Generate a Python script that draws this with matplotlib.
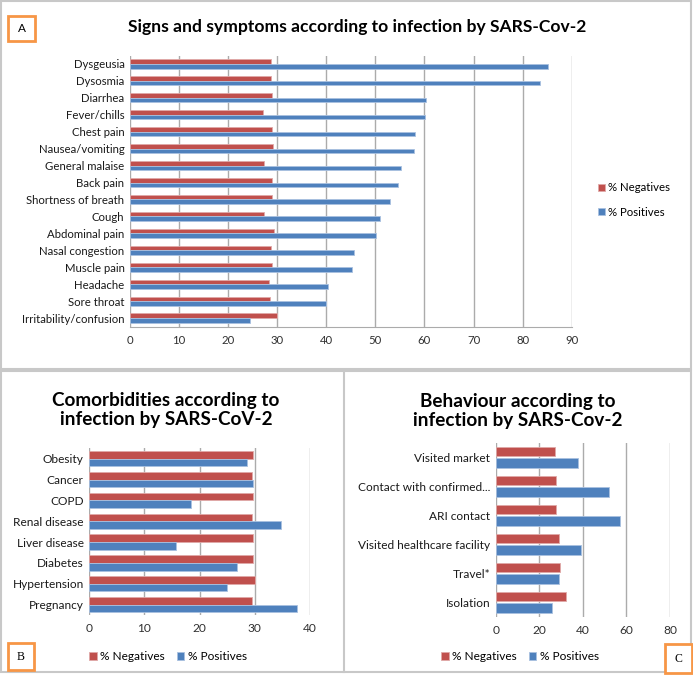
import matplotlib
matplotlib.use('Agg')
import matplotlib.pyplot as plt
from matplotlib.patches import Rectangle
from matplotlib.lines import Line2D
import numpy as np

plt.rcParams['font.family'] = ['Lato', 'DejaVu Sans']

# Panel A: signs and symptoms
symptoms = ['Dysgeusia', 'Dysosmia', 'Diarrhea', 'Fever/chills', 'Chest pain',
            'Nausea/vomiting', 'General malaise', 'Back pain', 'Shortness of breath',
            'Cough', 'Abdominal pain', 'Nasal congestion', 'Muscle pain', 'Headache',
            'Sore throat', 'Irritability/confusion']
symptoms_neg = [28.8, 28.7, 28.9, 27.2, 28.9, 29.1, 27.4, 29.0, 29.0, 27.3, 29.3,
                28.7, 29.0, 28.4, 28.5, 30.0]
symptoms_pos = [85.2, 83.5, 60.4, 60.2, 58.1, 57.8, 55.3, 54.7, 52.9, 50.9, 50.1,
                45.6, 45.3, 40.4, 39.9, 24.4]

# Panel B: comorbidities
comorb = ['Obesity', 'Cancer', 'COPD', 'Renal disease', 'Liver disease', 'Diabetes',
          'Hypertension', 'Pregnancy']
comorb_neg = [29.7, 29.5, 29.7, 29.4, 29.7, 29.7, 30.0, 29.4]
comorb_pos = [28.6, 29.7, 18.4, 34.7, 15.8, 26.8, 24.9, 37.6]

# Panel C: behaviour
behav = ['Visited market', 'Contact with confirmed...', 'ARI contact',
         'Visited healthcare facility', 'Travel*', 'Isolation']
behav_neg = [27.1, 27.7, 27.7, 29.1, 29.4, 32.1]
behav_pos = [37.8, 52.0, 57.1, 39.0, 28.9, 25.7]

RED = '#C0504D'
BLUE = '#4F81BD'
GRID = '#ABABAB'
W, H = 693, 675


def fx(px):
    return px / W


def fy(py):
    return 1 - py / H


def bars(ax, cats, neg, pos, h, off, xmax, step, fs):
    n = len(cats)
    y = np.arange(n)[::-1]
    ax.barh(y + off, neg, height=h, color=RED, edgecolor='#E0A9A8', linewidth=0.6,
            label='% Negatives', zorder=3)
    ax.barh(y - off, pos, height=h, color=BLUE, edgecolor='#A9C1E0', linewidth=0.6,
            label='% Positives', zorder=3)
    ax.set_yticks(y)
    ax.set_yticklabels(cats, fontsize=fs)
    ax.set_ylim(-0.5, n - 0.5)
    ax.set_xlim(0, xmax)
    ax.set_xticks(np.arange(0, xmax + 1, step))
    ax.tick_params(axis='x', labelsize=fs, length=0, pad=6, colors='#303030')
    ax.tick_params(axis='y', length=0, pad=4, colors='#1a1a1a')
    ax.grid(axis='x', color=GRID, linewidth=1, zorder=0)
    for s in ['top', 'right', 'bottom', 'left']:
        ax.spines[s].set_visible(False)


fig = plt.figure(figsize=(W / 100, H / 100), dpi=100)

# --- A ---
axA = fig.add_axes([fx(130), fy(326.5), fx(571.7 - 130), (326.5 - 55.5) / H])
bars(axA, symptoms, symptoms_neg, symptoms_pos, 0.27, 0.135, 90, 10, 8.2)
axA.spines['bottom'].set_visible(True)
axA.spines['bottom'].set_color(GRID)
axA.legend(loc='center left', bbox_to_anchor=(fx(598), fy(200)),
           bbox_transform=fig.transFigure, frameon=False, fontsize=8.2,
           handlelength=0.6, handleheight=0.6, handletextpad=0.3,
           labelspacing=1.2, borderaxespad=0, borderpad=0)
fig.text(fx(357), fy(27), 'Signs and symptoms according to infection by SARS-Cov-2',
         ha='center', va='center', fontsize=12.6, fontweight='bold')

# --- B ---
axB = fig.add_axes([fx(89.3), fy(615), fx(310 - 89.3), (615 - 448.3) / H])
bars(axB, comorb, comorb_neg, comorb_pos, 0.37, 0.185, 40, 10, 8.6)
axB.legend(loc='center', bbox_to_anchor=(fx(168), fy(657)),
           bbox_transform=fig.transFigure, frameon=False, fontsize=8.6, ncol=2,
           handlelength=0.6, handleheight=0.6, handletextpad=0.3,
           columnspacing=1.0, borderaxespad=0, borderpad=0)
fig.text(fx(166), fy(410), 'Comorbidities according to\ninfection by SARS-CoV-2',
         ha='center', va='center', fontsize=13.6, fontweight='bold', linespacing=1.15)

# --- C ---
axC = fig.add_axes([fx(495.7), fy(616.7), fx(670 - 495.7), (616.7 - 442.7) / H])
bars(axC, behav, behav_neg, behav_pos, 0.32, 0.2, 80, 20, 8.6)
axC.legend(loc='center', bbox_to_anchor=(fx(520), fy(657)),
           bbox_transform=fig.transFigure, frameon=False, fontsize=8.6, ncol=2,
           handlelength=0.6, handleheight=0.6, handletextpad=0.3,
           columnspacing=1.0, borderaxespad=0, borderpad=0)
fig.text(fx(518), fy(411), 'Behaviour according to\ninfection by SARS-Cov-2',
         ha='center', va='center', fontsize=13.6, fontweight='bold', linespacing=1.15)

# panel borders
BORDER = '#C8C8C8'
fig.add_artist(Rectangle((fx(1), fy(369)), fx(690), (369 - 1) / H, transform=fig.transFigure,
                         fill=False, edgecolor=BORDER, linewidth=1.5))
fig.add_artist(Rectangle((fx(1), fy(672)), fx(690), (672 - 371) / H, transform=fig.transFigure,
                         fill=False, edgecolor=BORDER, linewidth=1.5))
fig.add_artist(Line2D([fx(344), fx(344)], [fy(371), fy(672)], transform=fig.transFigure,
                      color=BORDER, linewidth=1.5))

# letter boxes
ORANGE = '#F79646'
for (x0, y0, x1, y1, lab, fam) in [(8, 16, 35, 41, 'A', 'Lato'),
                                   (8, 643, 34, 670, 'B', 'Liberation Serif'),
                                   (665, 644, 692, 673, 'C', 'Liberation Serif')]:
    fig.add_artist(Rectangle((fx(x0), fy(y1)), fx(x1 - x0), (y1 - y0) / H,
                             transform=fig.transFigure, facecolor='white',
                             edgecolor=ORANGE, linewidth=2))
    fig.text(fx((x0 + x1) / 2), fy((y0 + y1) / 2), lab, ha='center', va='center',
             fontsize=8.5, family=fam)

plt.savefig('out.png', dpi=100)
